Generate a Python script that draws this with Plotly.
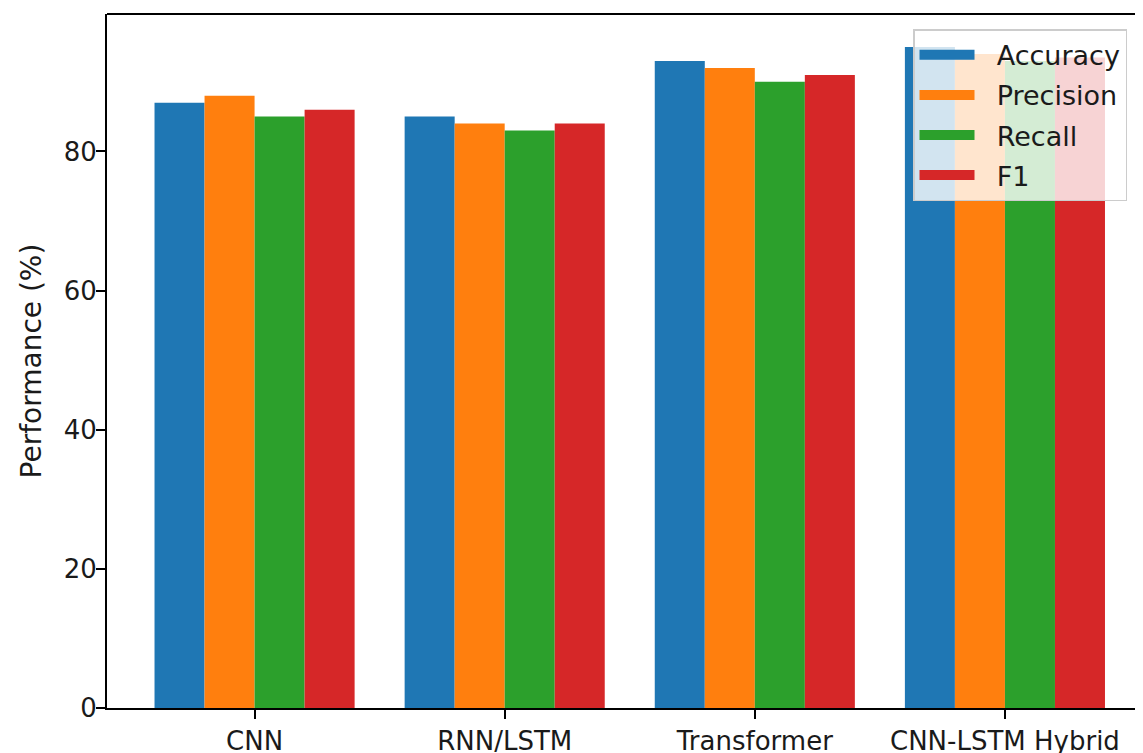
import plotly.graph_objects as go

models = ["CNN", "RNN/LSTM", "Transformer", "CNN-LSTM Hybrid"]
accuracy = [87, 85, 93, 95]
precision = [88, 84, 92, 94]
recall = [85, 83, 90, 93]
f1 = [86, 84, 91, 93.5]

series = [("Accuracy", accuracy, "#1f77b4"),
          ("Precision", precision, "#ff7f0e"),
          ("Recall", recall, "#2ca02c"),
          ("F1", f1, "#d62728")]

FONT = "DejaVu Sans"
fig = go.Figure()
for name, vals, color in series:
    fig.add_trace(go.Bar(x=models, y=vals, name=name, showlegend=False,
                         marker=dict(color=color, line=dict(width=0))))
# legend entries (wide patches like the reference)
for name, vals, color in series:
    fig.add_trace(go.Scatter(x=[None], y=[None], mode="lines", name="\u00a0\u00a0" + name,
                             legendgroup=name, line=dict(color=color, width=20)))

fig.update_layout(
    width=1143, height=753,
    margin=dict(l=99, r=8, t=6, b=53, autoexpand=False),
    plot_bgcolor="white", paper_bgcolor="white",
    barmode="group", bargap=0.2, bargroupgap=0,
    font=dict(family=FONT, size=26, color="#1a1a1a"),
    legend=dict(x=0.778, y=0.978, xanchor="left", yanchor="top",
                bgcolor="rgba(255,255,255,0.8)", bordercolor="#cccccc", borderwidth=1.5,
                tracegroupgap=2, itemwidth=55,
                font=dict(family=FONT, size=27, color="#1a1a1a")),
    showlegend=True,
)
fig.update_xaxes(range=[-0.59, 3.552], showline=True, linecolor="black", linewidth=2,
                 ticks="outside", ticklen=9, tickwidth=2, tickcolor="black", automargin=False,
                 showgrid=False, zeroline=False, tickfont=dict(size=26))
fig.update_yaxes(range=[0, 99.75], tickvals=[0, 20, 40, 60, 80], showline=True,
                 linecolor="black", linewidth=2, ticks="outside", ticklen=9, tickwidth=2,
                 tickcolor="black", showgrid=False, zeroline=False, tickfont=dict(size=26),
                 automargin=False, ticklabelstandoff=-6,
                 title=dict(text="Performance (%)", font=dict(size=28), standoff=14))
fig.add_shape(type="line", xref="paper", yref="paper", x0=0, x1=1, y0=1, y1=1,
              line=dict(color="black", width=2))
fig.write_html("out.html")
